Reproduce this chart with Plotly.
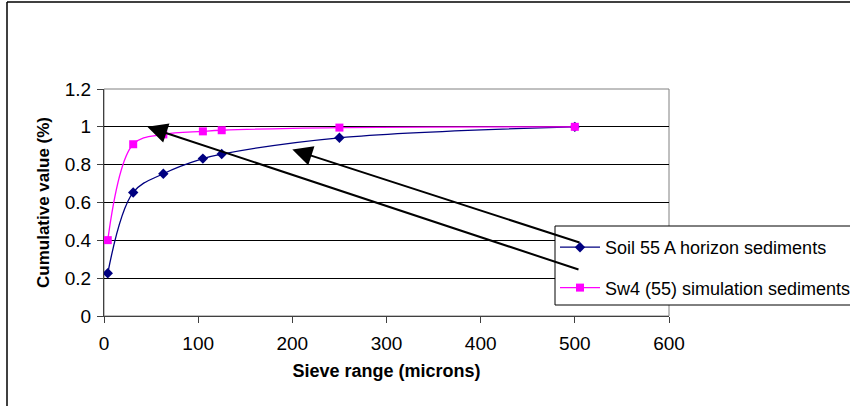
import plotly.graph_objects as go

# Sieve sizes (microns) and cumulative fractions for each sample
sieve_microns = [4, 31, 63, 105, 125, 250, 500]
soil_55_a = [0.226, 0.653, 0.752, 0.832, 0.856, 0.942, 1.0]
sw4_55_sim = [0.401, 0.908, 0.960, 0.976, 0.982, 0.996, 1.0]

x_ticks = [0, 100, 200, 300, 400, 500, 600]
y_ticks = [0, 0.2, 0.4, 0.6, 0.8, 1, 1.2]

W, H = 850, 406
L, R, T, B = 104, 181, 89, 90
PW, PH = W - L - R, H - T - B
FONT = "Liberation Sans, Arial, sans-serif"


def px_to_paper(px, py):
    return (px - L) / PW, (H - B - py) / PH


def paper_line(p0, p1, color="black", width=1.0, layer="above"):
    a, b = px_to_paper(*p0)
    c, d = px_to_paper(*p1)
    return dict(type="line", xref="paper", yref="paper", x0=a, y0=b, x1=c, y1=d,
                line=dict(color=color, width=width), layer=layer)


fig = go.Figure()

fig.add_trace(go.Scatter(
    x=sieve_microns, y=soil_55_a, name="Soil 55 A horizon sediments",
    mode="lines+markers", line=dict(color="#000080", width=1.3, shape="spline"),
    marker=dict(symbol="diamond", size=8, color="#000080"),
    legendgroup="a",
))
fig.add_trace(go.Scatter(
    x=sieve_microns, y=sw4_55_sim, name="Sw4 (55) simulation sediments",
    mode="lines+markers", line=dict(color="#FF00FF", width=1.3, shape="spline"),
    marker=dict(symbol="square", size=8, color="#FF00FF"),
    legendgroup="b",
))

shapes = [
    # outer chart frame: left and top edges
    paper_line((7, 2), (7, H), width=1.5, layer="below"),
    paper_line((7, 2), (W, 2), width=1.5, layer="below"),
    # plot-area border
    dict(type="rect", xref="paper", yref="paper", x0=0, y0=0, x1=1, y1=1,
         line=dict(color="#808080", width=1), layer="below"),
]

# legend box, white fill then its visible edges
lx0, ly0 = px_to_paper(555, 226)
lx1, ly1 = px_to_paper(W, 305)
shapes.append(dict(type="rect", xref="paper", yref="paper", x0=lx0, y0=ly0, x1=lx1, y1=ly1,
                   line=dict(width=0), fillcolor="white", layer="above"))
shapes += [
    paper_line((555, 226), (W, 226)),
    paper_line((555, 305), (W, 305)),
    paper_line((555, 226), (555, 305)),
]

# arrows pointing from the legend to the curves
arrows = [
    dict(head=(46, 1.0), tail=(580, 270)),
    dict(head=(200, 0.88), tail=(581, 243)),
]
annotations = []
for a in arrows:
    hx = L + a["head"][0] / 600 * PW
    hy = H - B - a["head"][1] / 1.2 * PH
    annotations.append(dict(
        x=a["head"][0], y=a["head"][1], xref="x", yref="y",
        ax=a["tail"][0] - hx, ay=a["tail"][1] - hy,
        showarrow=True, arrowhead=2, arrowsize=2, arrowwidth=2,
        arrowcolor="black", standoff=0, text="",
    ))

leg_x, leg_y = px_to_paper(555, 229)

fig.update_layout(
    width=W, height=H,
    margin=dict(l=L, r=R, t=T, b=B, autoexpand=False),
    paper_bgcolor="white", plot_bgcolor="white",
    font=dict(family=FONT, size=19, color="black"),
    showlegend=True,
    legend=dict(x=leg_x, y=leg_y, xanchor="left", yanchor="top",
                bgcolor="rgba(0,0,0,0)", bordercolor="rgba(0,0,0,0)", borderwidth=0,
                itemwidth=40, tracegroupgap=14,
                font=dict(family=FONT, size=18, color="black")),
    shapes=shapes,
    annotations=annotations,
    xaxis=dict(range=[0, 600], tickvals=x_ticks, ticks="outside", ticklen=6,
               tickcolor="#404040", showgrid=False, zeroline=False,
               showline=True, linecolor="#404040", linewidth=1,
               ticklabelstandoff=4,
               title=dict(text="<b>Sieve range (microns)</b>", standoff=11,
                          font=dict(family=FONT, size=18))),
    yaxis=dict(range=[0, 1.2], tickvals=y_ticks, ticktext=[str(v) for v in y_ticks],
               ticks="outside", ticklen=6, tickcolor="#404040",
               showgrid=True, gridcolor="black", gridwidth=1, zeroline=False,
               showline=True, linecolor="#404040", linewidth=1,
               ticklabelstandoff=2,
               title=dict(text="<b>Cumulative value (%)</b>", standoff=10,
                          font=dict(family=FONT, size=17))),
)

fig.write_html("out.html")
